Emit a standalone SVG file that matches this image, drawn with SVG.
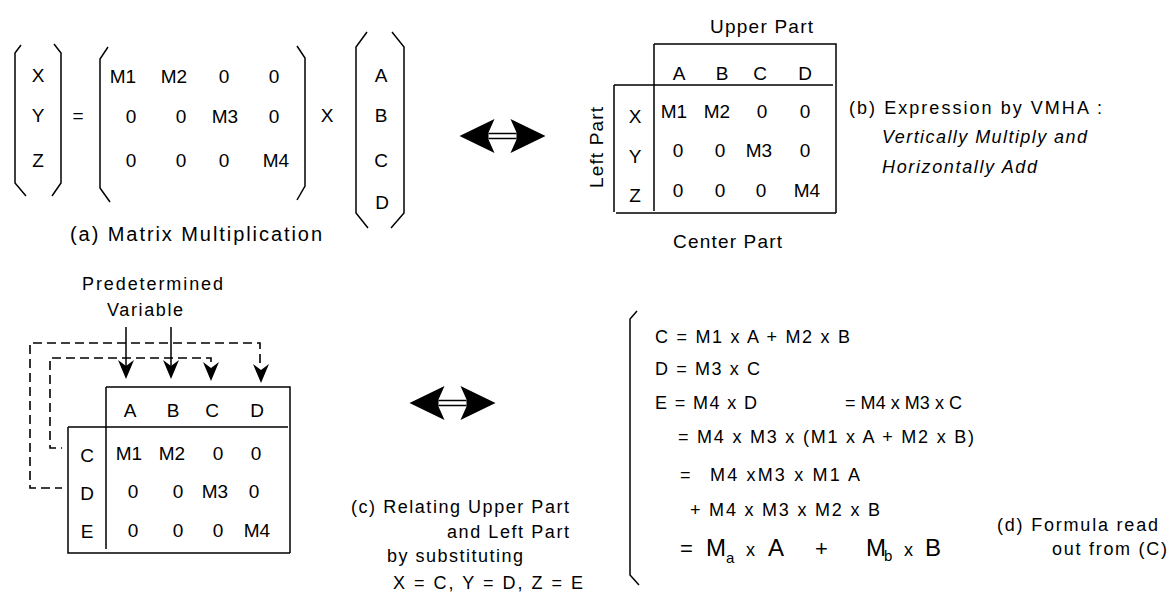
<svg xmlns="http://www.w3.org/2000/svg" width="1171" height="592" viewBox="0 0 1171 592">
  <style>
    .t { font-family: "Liberation Sans", Arial, sans-serif; font-size: 19px; fill: #000; }
    .s { font-size: 18px; }
    .cap { font-size: 20px; }
    .f { font-size: 18px; }
    .big { font-size: 24px; }
    .op { font-size: 22px; }
    .sub { font-size: 15px; }
    .it { font-style: italic; }
    .m { text-anchor: middle; }
    .ln { fill: none; stroke: #000; stroke-width: 1.5; }
    .dash { fill: none; stroke: #000; stroke-width: 1.6; stroke-dasharray: 9 5; }
  </style>
  <defs>
    <!-- bidirectional block arrow, centred on its origin -->
    <g id="dbl">
      <path d="M-14,-2.5 H14 M-14,2.5 H14" stroke="#000" stroke-width="1.6" fill="none"/>
      <path d="M-43,0 L-8,-17 L-14,-3.5 L-14,3.5 L-8,17 Z" fill="#000"/>
      <path d="M43,0 L8,-17 L14,-3.5 L14,3.5 L8,17 Z" fill="#000"/>
    </g>
    <!-- downward arrow head, tip at origin -->
    <path id="head" d="M0,0 L-8,-19 L0,-13 L8,-19 Z" fill="#000"/>
  </defs>

  <!-- (a) matrix multiplication -->
  <g id="matrix-eq">
    <path class="ln" d="M21,45 L15,53 L15,183 L26,196"/>
    <path class="ln" d="M54,44 L61,53 L61,183 L52,196"/>
    <text class="t m" x="38" y="82">X</text>
    <text class="t m" x="38" y="122">Y</text>
    <text class="t m" x="38" y="167">Z</text>
    <text class="t m" x="78" y="122">=</text>

    <path class="ln" d="M108,47 L100,59 L100,188 L110,202"/>
    <path class="ln" d="M297,46 L305,58 L305,186 L297,200"/>
    <text class="t m" x="123" y="83">M1</text>
    <text class="t m" x="174" y="83">M2</text>
    <text class="t m" x="224" y="83">0</text>
    <text class="t m" x="274" y="83">0</text>
    <text class="t m" x="131" y="123">0</text>
    <text class="t m" x="181" y="123">0</text>
    <text class="t m" x="225" y="123">M3</text>
    <text class="t m" x="274" y="123">0</text>
    <text class="t m" x="131" y="167">0</text>
    <text class="t m" x="181" y="167">0</text>
    <text class="t m" x="224" y="167">0</text>
    <text class="t m" x="276" y="167">M4</text>

    <text class="t m" x="327" y="122">X</text>

    <path class="ln" d="M367,32 L356,47 L356,213 L368,228"/>
    <path class="ln" d="M392,32 L404,47 L404,213 L391,228"/>
    <text class="t m" x="381" y="82">A</text>
    <text class="t m" x="381" y="122">B</text>
    <text class="t m" x="381" y="167">C</text>
    <text class="t m" x="382" y="209">D</text>

    <text class="t cap" x="70" y="241" textLength="252">(a)  Matrix Multiplication</text>
  </g>

  <g id="double-arrow-top">
    <use href="#dbl" transform="translate(502.5,136)"/>
  </g>

  <!-- (b) VMHA table -->
  <g id="vmha-table">
    <text class="t" x="710" y="33" textLength="103">Upper Part</text>
    <path class="ln" d="M654,44 H836 V213 M654,44 V211 M614,85 H833 M614,85 V212 M616,213 H836"/>
    <text class="t m" x="679" y="80">A</text>
    <text class="t m" x="722" y="80">B</text>
    <text class="t m" x="760" y="80">C</text>
    <text class="t m" x="805" y="80">D</text>
    <text class="t" transform="translate(603,188) rotate(-90)" textLength="81">Left Part</text>
    <text class="t m" x="635" y="123">X</text>
    <text class="t m" x="635" y="163">Y</text>
    <text class="t m" x="635" y="202">Z</text>
    <text class="t m" x="674" y="118">M1</text>
    <text class="t m" x="717" y="118">M2</text>
    <text class="t m" x="762" y="118">0</text>
    <text class="t m" x="805" y="118">0</text>
    <text class="t m" x="678" y="157">0</text>
    <text class="t m" x="720" y="157">0</text>
    <text class="t m" x="759" y="157">M3</text>
    <text class="t m" x="805" y="157">0</text>
    <text class="t m" x="678" y="197">0</text>
    <text class="t m" x="720" y="197">0</text>
    <text class="t m" x="761" y="197">0</text>
    <text class="t m" x="807" y="197">M4</text>
    <text class="t" x="673" y="248" textLength="109">Center Part</text>
  </g>

  <g id="vmha-caption">
    <text class="t s" x="849" y="114" textLength="253">(b) Expression  by VMHA :</text>
    <text class="t s it" x="882" y="143" textLength="205">Vertically Multiply and</text>
    <text class="t s it" x="882" y="173" textLength="155">Horizontally Add</text>
  </g>

  <!-- (c) substitution table -->
  <g id="predetermined-label">
    <text class="t s" x="82" y="290" textLength="141">Predetermined</text>
    <text class="t s" x="107" y="316" textLength="76">Variable</text>
  </g>

  <g id="connectors">
    <path class="dash" d="M260,363 V343 H30 V488 H62" stroke-width="2"/>
    <path class="dash" d="M211,362 V358 H50 V448 H62"/>
    <path class="ln" d="M126,327 V368 M171,327 V368"/>
    <use href="#head" transform="translate(126,379)"/>
    <use href="#head" transform="translate(171,379)"/>
    <use href="#head" transform="translate(211,381)"/>
    <use href="#head" transform="translate(261,383)"/>
  </g>

  <g id="substitution-table">
    <path class="ln" d="M106,387 H290 V553 M106,387 V549 M68,427 H288 M68,427 V553 H290"/>
    <text class="t m" x="130" y="417">A</text>
    <text class="t m" x="173" y="417">B</text>
    <text class="t m" x="212" y="417">C</text>
    <text class="t m" x="257" y="417">D</text>
    <text class="t m" x="87" y="462">C</text>
    <text class="t m" x="87" y="500">D</text>
    <text class="t m" x="87" y="538">E</text>
    <text class="t m" x="129" y="460">M1</text>
    <text class="t m" x="172" y="460">M2</text>
    <text class="t m" x="218" y="460">0</text>
    <text class="t m" x="256" y="460">0</text>
    <text class="t m" x="133" y="498">0</text>
    <text class="t m" x="178" y="498">0</text>
    <text class="t m" x="215" y="498">M3</text>
    <text class="t m" x="254" y="498">0</text>
    <text class="t m" x="133" y="537">0</text>
    <text class="t m" x="178" y="537">0</text>
    <text class="t m" x="218" y="537">0</text>
    <text class="t m" x="257" y="537">M4</text>
  </g>

  <g id="double-arrow-bottom">
    <use href="#dbl" transform="translate(452.5,403)"/>
  </g>

  <g id="caption-c">
    <text class="t s" x="351" y="513" textLength="218">(c) Relating Upper Part</text>
    <text class="t s" x="447" y="538" textLength="122">and Left Part</text>
    <text class="t s" x="387" y="562" textLength="136">by substituting</text>
    <text class="t s" x="393" y="589" textLength="190">X = C,  Y = D,  Z = E</text>
  </g>

  <!-- (d) formula -->
  <g id="formula">
    <path class="ln" d="M637,311 L630,319 L630,575 L639,585"/>
    <text class="t f" x="655" y="343" textLength="195">C = M1 x A + M2 x B</text>
    <text class="t f" x="655" y="375" textLength="105">D = M3 x C</text>
    <text class="t f" x="655" y="409" textLength="102">E = M4 x D</text>
    <text class="t f" x="845" y="409" textLength="117">= M4 x M3 x C</text>
    <text class="t f" x="678" y="443" textLength="296">= M4 x M3 x (M1 x A + M2 x B)</text>
    <text class="t f" x="680" y="481">=</text>
    <text class="t f" x="710" y="481" textLength="150">M4 xM3 x M1  A</text>
    <text class="t f" x="690" y="516" textLength="190">+ M4 x M3 x M2 x B</text>
    <text class="t op" x="680" y="556">=</text>
    <text class="t big" x="706" y="556">M</text>
    <text class="t sub" x="726" y="563">a</text>
    <text class="t f" x="746" y="556">x</text>
    <text class="t big" x="768" y="556">A</text>
    <text class="t op" x="815" y="556">+</text>
    <text class="t big" x="866" y="556">M</text>
    <text class="t sub" x="884" y="561">b</text>
    <text class="t f" x="904" y="556">x</text>
    <text class="t big" x="925" y="556">B</text>
  </g>

  <g id="caption-d">
    <text class="t s" x="997" y="531" textLength="161">(d) Formula read</text>
    <text class="t s" x="1052" y="555" textLength="115">out from  (C)</text>
  </g>
</svg>
